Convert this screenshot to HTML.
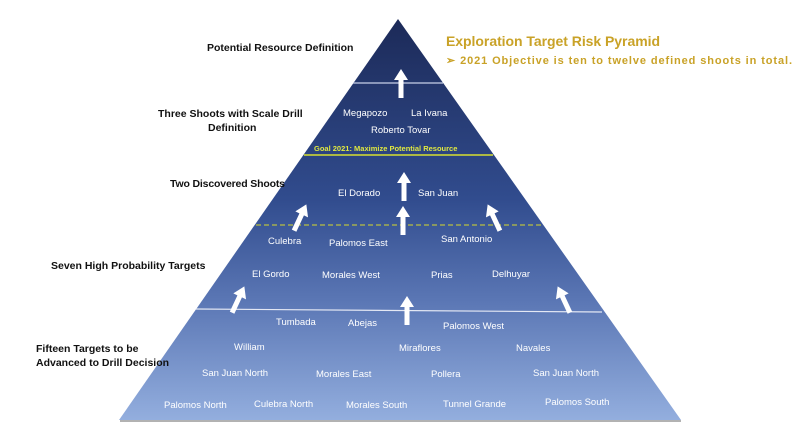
<!DOCTYPE html>
<html><head><meta charset="utf-8"><style>
body{margin:0;width:800px;height:432px;background:#fff;overflow:hidden}
svg{display:block}
.w{font-family:"Liberation Sans",sans-serif;font-size:9.5px;fill:#fff}
.l{font-family:"Liberation Sans",sans-serif;font-size:10.5px;font-weight:bold;fill:#111}
</style></head><body>
<svg width="800" height="432" viewBox="0 0 800 432">
<defs>
<linearGradient id="g" x1="0" y1="0" x2="0" y2="1">
<stop offset="0" stop-color="#1c2a58"/>
<stop offset="0.45" stop-color="#314c8e"/>
<stop offset="0.7" stop-color="#5a76b4"/>
<stop offset="1" stop-color="#93aede"/>
</linearGradient>
<g id="ar"><polygon points="0,-15 -7,-4 -2.5,-4 -2.5,14 2.5,14 2.5,-4 7,-4" fill="#fff"/></g>
</defs>
<polygon points="398,19 681,420 119,420" fill="url(#g)"/>
<line x1="120" y1="421" x2="681" y2="421" stroke="#999" stroke-width="1.5"/>
<line x1="353" y1="83" x2="443" y2="83" stroke="#c8d0e8" stroke-width="1.2"/>
<line x1="304" y1="155" x2="493" y2="155" stroke="#d8e030" stroke-width="1.5"/>
<line x1="256" y1="225" x2="542" y2="225" stroke="#b8c040" stroke-width="1.3" stroke-dasharray="5,3"/>
<line x1="196" y1="309" x2="602" y2="312" stroke="#e4e8f4" stroke-width="1.2"/>
<use href="#ar" transform="translate(401,84)"/>
<use href="#ar" transform="translate(404,187)"/>
<use href="#ar" transform="translate(403,221)"/>
<use href="#ar" transform="translate(300,218) rotate(25)"/>
<use href="#ar" transform="translate(494,218) rotate(-25)"/>
<use href="#ar" transform="translate(238,300) rotate(25)"/>
<use href="#ar" transform="translate(407,311)"/>
<use href="#ar" transform="translate(564,300) rotate(-25)"/>
<text class="w" x="343" y="116">Megapozo</text>
<text class="w" x="411" y="116">La Ivana</text>
<text class="w" x="371" y="133">Roberto  Tovar</text>
<text x="314" y="151" font-family="Liberation Sans,sans-serif" font-size="7.5" font-weight="bold" fill="#e0e840">Goal 2021:  Maximize Potential Resource</text>
<text class="w" x="338" y="196">El Dorado</text>
<text class="w" x="418" y="196">San Juan</text>
<text class="w" x="268" y="244">Culebra</text>
<text class="w" x="329" y="246">Palomos East</text>
<text class="w" x="441" y="242">San Antonio</text>
<text class="w" x="252" y="277">El Gordo</text>
<text class="w" x="322" y="278">Morales West</text>
<text class="w" x="431" y="278">Prias</text>
<text class="w" x="492" y="277">Delhuyar</text>
<text class="w" x="276" y="325">Tumbada</text>
<text class="w" x="348" y="326">Abejas</text>
<text class="w" x="443" y="329">Palomos West</text>
<text class="w" x="234" y="350">William</text>
<text class="w" x="399" y="351">Miraflores</text>
<text class="w" x="516" y="351">Navales</text>
<text class="w" x="202" y="376">San Juan North</text>
<text class="w" x="316" y="377">Morales East</text>
<text class="w" x="431" y="377">Pollera</text>
<text class="w" x="533" y="376">San Juan North</text>
<text class="w" x="164" y="408">Palomos North</text>
<text class="w" x="254" y="407">Culebra North</text>
<text class="w" x="346" y="408">Morales South</text>
<text class="w" x="443" y="407">Tunnel Grande</text>
<text class="w" x="545" y="405">Palomos South</text>
<text class="l" x="207" y="51">Potential Resource Definition</text>
<text class="l" x="158" y="117">Three Shoots with  Scale Drill</text>
<text class="l" x="208" y="131">Definition</text>
<text class="l" x="170" y="187" textLength="115">Two Discovered Shoots</text>
<text class="l" x="51" y="269">Seven High Probability Targets</text>
<text class="l" x="36" y="352">Fifteen Targets to be</text>
<text class="l" x="36" y="366">Advanced  to Drill Decision</text>
<text x="446" y="46" font-family="Liberation Sans,sans-serif" font-size="14" font-weight="bold" fill="#c9a227" textLength="214">Exploration Target Risk Pyramid</text>
<text x="446" y="64" font-family="Liberation Sans,sans-serif" font-size="11" font-weight="bold" fill="#c9a227" textLength="346">➢   2021 Objective is ten to twelve defined shoots  in total.</text>
</svg>
</body></html>
